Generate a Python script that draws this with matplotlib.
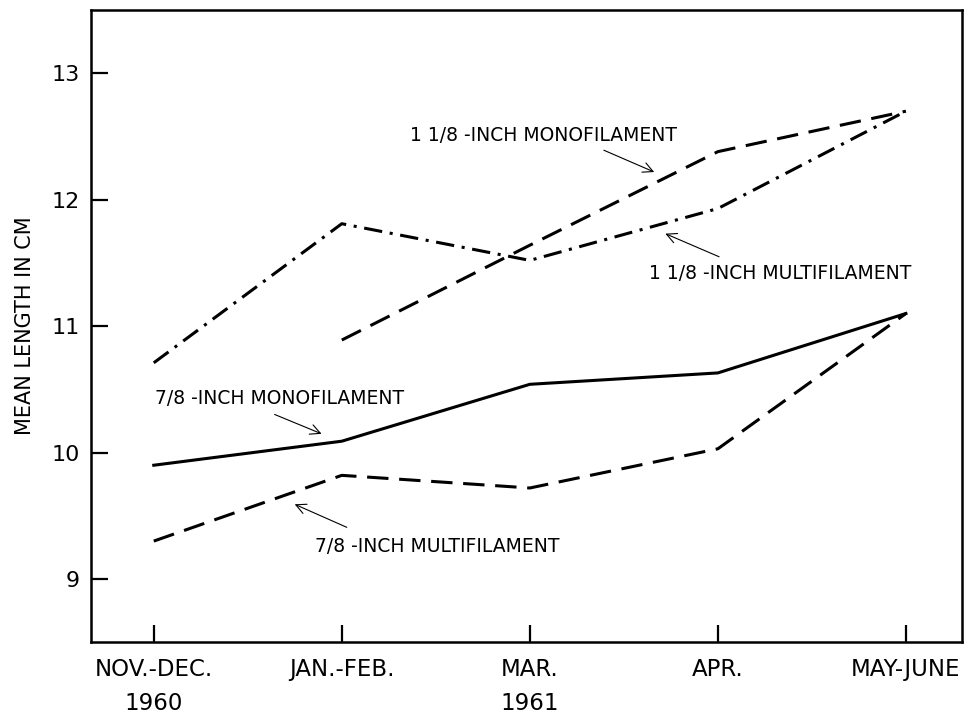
import matplotlib
matplotlib.use("Agg")
import matplotlib.pyplot as plt
import numpy as np

# periods sampled
periods = ["NOV.-DEC.", "JAN.-FEB.", "MAR.", "APR.", "MAY-JUNE"]
years = ["1960", "", "1961", "", ""]

# mean length in cm
mono_78 = [9.90, 10.09, 10.54, 10.63, 11.10]
multi_78 = [9.30, 9.82, 9.72, 10.03, 11.10]
mono_118 = [np.nan, 10.89, 11.64, 12.38, 12.70]
multi_118 = [10.71, 11.81, 11.52, 11.93, 12.70]

plt.rcParams["font.family"] = ["DejaVu Sans"]

fig = plt.figure(figsize=(9.76, 7.16), dpi=100)
ax = fig.add_axes([0.093, 0.103, 0.893, 0.883])

x = np.arange(len(periods))
lw = 2.2
ax.plot(x, mono_78, color="black", lw=lw, solid_joinstyle="round")
ax.plot(x, multi_78, color="black", lw=lw, dashes=(7, 3.5))
ax.plot(x, mono_118, color="black", lw=lw, dashes=(7, 3.5))
ax.plot(x, multi_118, color="black", lw=lw, dashes=(6, 2.5, 1, 2.5))

ax.set_xlim(-0.335, 4.30)
ax.set_ylim(8.5, 13.5)
ax.set_yticks([9, 10, 11, 12, 13])
ax.set_xticks(x)
ax.set_xticklabels([f"{p}\n{y}" for p, y in zip(periods, years)],
                   fontsize=16.5, linespacing=1.65)
ax.tick_params(axis="both", direction="in", length=12, width=1.6,
               top=False, right=False, labelsize=16, pad=11)
ax.tick_params(axis="x", labelsize=16.5)
ax.tick_params(axis="y", pad=8)
for s in ax.spines.values():
    s.set_linewidth(1.8)
ax.set_ylabel("MEAN LENGTH IN CM", fontsize=15, labelpad=12)

arrow = dict(arrowstyle="->", color="black", lw=0.8, mutation_scale=18)
tsize = 13.5
labels = [
    # text, text position, arrow tail, arrow head
    ("1 1/8 -INCH MONOFILAMENT", (2.07, 12.51), (2.38, 12.40), (2.675, 12.21)),
    ("1 1/8 -INCH MULTIFILAMENT", (3.33, 11.42), (3.02, 11.54), (2.707, 11.74)),
    ("7/8 -INCH MONOFILAMENT", (0.667, 10.43), (0.629, 10.31), (0.906, 10.14)),
    ("7/8 -INCH MULTIFILAMENT", (1.508, 9.26), (1.04, 9.40), (0.736, 9.60)),
]
for txt, pos, tail, head in labels:
    ax.text(pos[0], pos[1], txt, fontsize=tsize, ha="center", va="center")
    ax.annotate("", xy=head, xytext=tail, arrowprops=arrow)

fig.savefig("out.png", dpi=100)
